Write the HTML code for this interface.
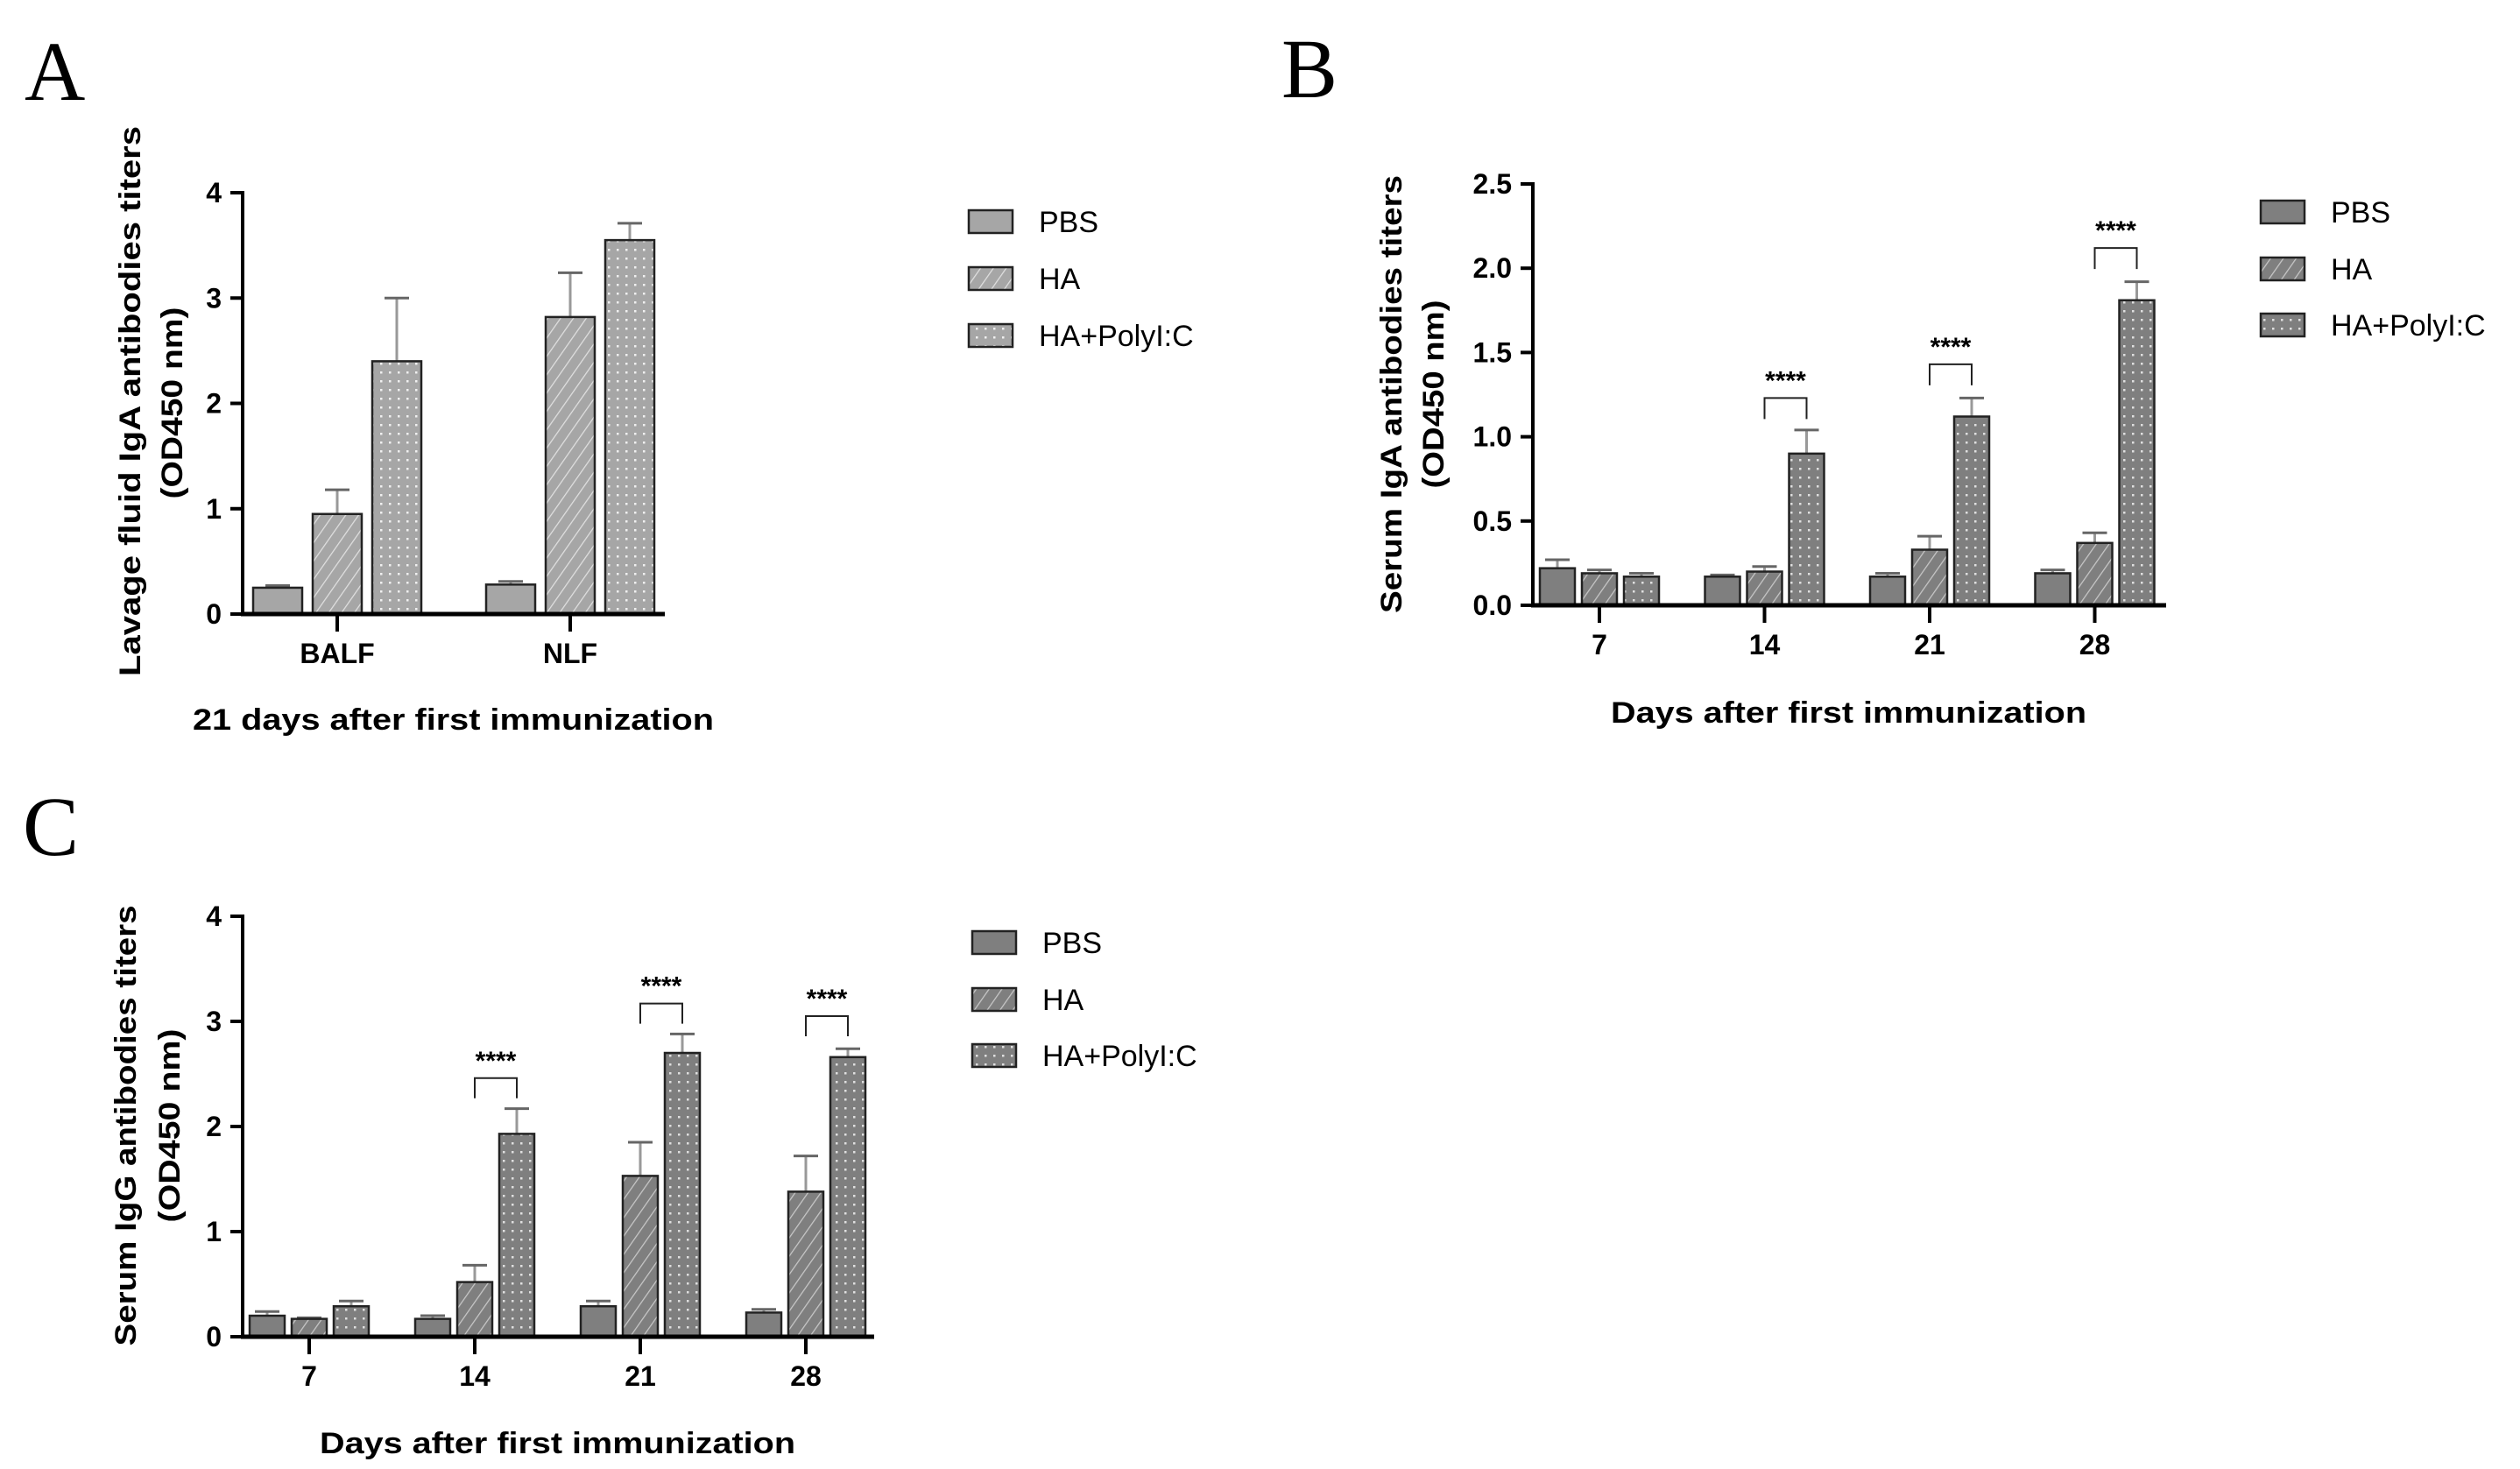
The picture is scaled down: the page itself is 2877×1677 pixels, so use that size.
<!DOCTYPE html>
<html><head><meta charset="utf-8">
<style>
html,body{margin:0;padding:0;background:#fff;}
svg{display:block;}
text{font-family:"Liberation Sans",Arial,sans-serif;}
</style></head>
<body>
<svg id="fig" width="2877" height="1677" viewBox="0 0 2877 1677" xmlns="http://www.w3.org/2000/svg">
<defs>
<pattern id="hatchA" patternUnits="userSpaceOnUse" width="12" height="12" patternTransform="rotate(35)"><rect width="12" height="12" fill="#a6a6a6"/><line x1="0" y1="0" x2="0" y2="12" stroke="#e0e0e0" stroke-width="2.5"/></pattern>
<pattern id="dotA" patternUnits="userSpaceOnUse" width="10" height="10"><rect width="10" height="10" fill="#a6a6a6"/><rect x="4" y="4" width="2.5" height="2.5" fill="#f0f0f0"/></pattern>
<pattern id="hatchB" patternUnits="userSpaceOnUse" width="12" height="12" patternTransform="rotate(35)"><rect width="12" height="12" fill="#7f7f7f"/><line x1="0" y1="0" x2="0" y2="12" stroke="#c8c8c8" stroke-width="2.5"/></pattern>
<pattern id="dotB" patternUnits="userSpaceOnUse" width="10" height="10"><rect width="10" height="10" fill="#7f7f7f"/><rect x="4" y="4" width="2.5" height="2.5" fill="#e0e0e0"/></pattern>
</defs>
</svg>
<script>
// ---------- Data ----------
const groups = ["PBS","HA","HA+PolyI:C"];
const catsA = ["BALF","NLF"];
const meanA_PBS = [0.25, 0.28];
const meanA_HA = [0.95, 2.82];
const meanA_Poly = [2.40, 3.55];
const errA_PBS = [0.02, 0.03];
const errA_HA = [0.23, 0.42];
const errA_Poly = [0.60, 0.16];
const ticksA = [0,1,2,3,4];

const catsB = ["7","14","21","28"];
const meanB_PBS = [0.22, 0.17, 0.17, 0.19];
const meanB_HA = [0.19, 0.20, 0.33, 0.37];
const meanB_Poly = [0.17, 0.90, 1.12, 1.81];
const errB_PBS = [0.05, 0.01, 0.02, 0.02];
const errB_HA = [0.02, 0.03, 0.08, 0.06];
const errB_Poly = [0.02, 0.14, 0.11, 0.11];
const ticksB = ["0.0","0.5","1.0","1.5","2.0","2.5"];
const sigB = [null, 1.23, 1.43, 2.12];

const catsC = ["7","14","21","28"];
const meanC_PBS = [0.20, 0.17, 0.29, 0.23];
const meanC_HA = [0.17, 0.52, 1.53, 1.38];
const meanC_Poly = [0.29, 1.93, 2.70, 2.66];
const errC_PBS = [0.04, 0.03, 0.05, 0.03];
const errC_HA = [0.01, 0.16, 0.32, 0.34];
const errC_Poly = [0.05, 0.24, 0.18, 0.08];
const ticksC = [0,1,2,3,4];
const sigC = [null, 2.46, 3.17, 3.05];

const svg = document.getElementById('fig');
const NS = "http://www.w3.org/2000/svg";
function mk(tag, attrs, parent){
  const e = document.createElementNS(NS, tag);
  for (const k in attrs) e.setAttribute(k, attrs[k]);
  (parent||svg).appendChild(e);
  return e;
}

function panel(cfg){
  const g = mk('g', {});
  
  
  const y = v => cfg.y0 - (v / cfg.ymax) * (cfg.y0 - cfg.yTop);
  const L = mk('text', {x: cfg.letterX, y: cfg.letterY, style: 'font-family:"Liberation Serif",serif;font-size:96px'}, g);
  
  
  L.textContent = cfg.letter;
  const means = [cfg.m0, cfg.m1, cfg.m2], errs = [cfg.e0, cfg.e1, cfg.e2];
  const fills = cfg.fills;
  cfg.cats.forEach((c, i) => {
    const cx = cfg.x0 + cfg.firstTick + i * cfg.catStep;
    for (let s = 0; s < 3; s++){
      const bx = cx + (s - 1) * cfg.barStep - cfg.barW / 2;
      const top = y(means[s][i]);
      const ex = bx + cfg.barW / 2;
      const et = y(means[s][i] + errs[s][i]);
      const el = mk('line', {x1: ex, x2: ex, y1: top, y2: et, stroke: '#999', 'stroke-width': 3}, g);
      
      
      const ec = mk('line', {x1: ex - 14, x2: ex + 14, y1: et, y2: et, stroke: '#666', 'stroke-width': 3}, g);
      
      
      const r = mk('rect', {x: bx, y: top, width: cfg.barW, height: cfg.y0 - top, fill: fills[s], stroke: '#222', 'stroke-width': 2.5}, g);
      
      
    }
    if (cfg.sig && cfg.sig[i] != null){
      const x1 = cx, x2 = cx + cfg.barStep;
      const yt = y(cfg.sig[i]);
      const br = mk('path', {d: `M${x1},${yt + cfg.leg} V${yt} H${x2} V${yt + cfg.leg}`, fill: 'none', stroke: '#222', 'stroke-width': 2}, g);
      
      
      const st = mk('text', {x: (x1 + x2) / 2, y: yt - 10, 'text-anchor': 'middle', 'font-size': 30, 'font-weight': 'bold'}, g);
      
      
      st.textContent = '****';
    }
    const t = mk('line', {x1: cx, x2: cx, y1: cfg.y0, y2: cfg.y0 + 20, stroke: '#000', 'stroke-width': 4}, g);
    
    
    const tl = mk('text', {x: cx, y: cfg.y0 + 56, 'text-anchor': 'middle', 'font-size': 32, 'font-weight': 'bold'}, g);
    
    
    tl.textContent = c;
  });
  const ya = mk('line', {x1: cfg.x0, x2: cfg.x0, y1: cfg.yTop - 2, y2: cfg.y0 + 2, stroke: '#000', 'stroke-width': 4}, g);
  
  
  const xa = mk('line', {x1: cfg.x0 - 2, x2: cfg.xEnd, y1: cfg.y0, y2: cfg.y0, stroke: '#000', 'stroke-width': 5}, g);
  
  
  cfg.ticks.forEach(tv => {
    const v = parseFloat(tv);
    const yy = y(v);
    const t = mk('line', {x1: cfg.x0 - 14, x2: cfg.x0, y1: yy, y2: yy, stroke: '#000', 'stroke-width': 4}, g);
    
    
    const tl = mk('text', {x: cfg.x0 - 24, y: yy + 11, 'text-anchor': 'end', 'font-size': 32, 'font-weight': 'bold'}, g);
    
    
    tl.textContent = tv;
  });
  const yt1 = mk('text', {x: 0, y: 0, 'text-anchor': 'middle', 'font-size': 34, 'font-weight': 'bold', transform: `translate(${cfg.yl1x},${cfg.yl1c}) rotate(-90)`, textLength: cfg.yl1len, lengthAdjust: 'spacingAndGlyphs'}, g);
  
  
  yt1.textContent = cfg.yl1;
  const yt2 = mk('text', {x: 0, y: 0, 'text-anchor': 'middle', 'font-size': 34, 'font-weight': 'bold', transform: `translate(${cfg.yl2x},${cfg.yl2c}) rotate(-90)`, textLength: cfg.yl2len, lengthAdjust: 'spacingAndGlyphs'}, g);
  
  
  yt2.textContent = '(OD450 nm)';
  const xt = mk('text', {x: cfg.xtX, y: cfg.xtY, 'font-size': 34, 'font-weight': 'bold', textLength: cfg.xtLen, lengthAdjust: 'spacingAndGlyphs'}, g);
  
  
  xt.textContent = cfg.xt;
  groups.forEach((gname, s) => {
    const ly = cfg.legY[s];
    const lb = mk('rect', {x: cfg.legX, y: ly - 13, width: 50, height: 26, fill: fills[s], stroke: '#222', 'stroke-width': 2.5}, g);
    
    
    const lt = mk('text', {x: cfg.legX + 80, y: ly + 12, 'font-size': 34}, g);
    
    
    lt.textContent = gname;
  });
}

panel({name: 'panel-a', letter: 'A', letterX: 28, letterY: 114,
  x0: 277, xEnd: 759, yTop: 220, y0: 701, ymax: 4, ticks: ticksA,
  cats: catsA, firstTick: 108, catStep: 266, barStep: 68, barW: 56,
  m0: meanA_PBS, m1: meanA_HA, m2: meanA_Poly, e0: errA_PBS, e1: errA_HA, e2: errA_Poly,
  fills: ['#a6a6a6', 'url(#hatchA)', 'url(#dotA)'],
  yl1: 'Lavage fluid IgA antibodies titers', yl1x: 160, yl1c: 458, yl1len: 628,
  yl2x: 208, yl2c: 460, yl2len: 219,
  xt: '21 days after first immunization', xtX: 220, xtY: 833, xtLen: 595,
  legX: 1106, legY: [253, 318, 383]});

panel({name: 'panel-b', letter: 'B', letterX: 1463, letterY: 111,
  x0: 1750, xEnd: 2473, yTop: 210, y0: 691, ymax: 2.5, ticks: ticksB,
  cats: catsB, firstTick: 76, catStep: 188.5, barStep: 48, barW: 40,
  m0: meanB_PBS, m1: meanB_HA, m2: meanB_Poly, e0: errB_PBS, e1: errB_HA, e2: errB_Poly,
  fills: ['#7f7f7f', 'url(#hatchB)', 'url(#dotB)'], sig: sigB, leg: 24,
  yl1: 'Serum IgA antibodies titers', yl1x: 1600, yl1c: 450, yl1len: 500,
  yl2x: 1648, yl2c: 450, yl2len: 215,
  xt: 'Days after first immunization', xtX: 1839, xtY: 825, xtLen: 543,
  legX: 2581, legY: [242, 307, 371]});

panel({name: 'panel-c', letter: 'C', letterX: 26, letterY: 976,
  x0: 277, xEnd: 998, yTop: 1046, y0: 1526, ymax: 4, ticks: ticksC,
  cats: catsC, firstTick: 76, catStep: 189, barStep: 48, barW: 40,
  m0: meanC_PBS, m1: meanC_HA, m2: meanC_Poly, e0: errC_PBS, e1: errC_HA, e2: errC_Poly,
  fills: ['#7f7f7f', 'url(#hatchB)', 'url(#dotB)'], sig: sigC, leg: 23,
  yl1: 'Serum IgG antibodies titers', yl1x: 155, yl1c: 1285, yl1len: 503,
  yl2x: 205, yl2c: 1285, yl2len: 221,
  xt: 'Days after first immunization', xtX: 365, xtY: 1659, xtLen: 543,
  legX: 1110, legY: [1076, 1141, 1205]});
</script>
</body></html>
